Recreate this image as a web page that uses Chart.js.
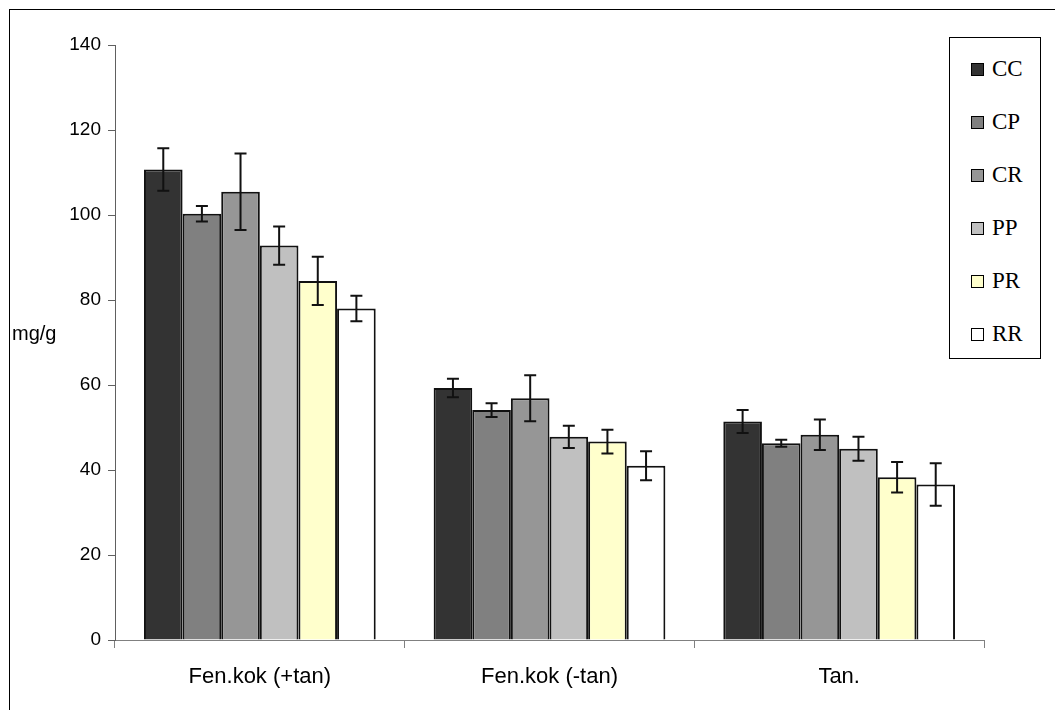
<!DOCTYPE html>
<html>
<head>
<meta charset="UTF-8">
<title>mg/g</title>
<script src="https://cdn.jsdelivr.net/npm/chart.js"></script>
<style>
    html, body { margin: 0; padding: 0; background: #fff; overflow: hidden; }
    #wrap { position: relative; width: 1055px; height: 710px; }
    #frame {
        position: absolute; left: 9px; top: 9px; width: 1100px; height: 800px;
        border: 1px solid #000; box-sizing: border-box;
    }
    #myChart { position: absolute; left: 0; top: 0; }
    #ylab {
        position: absolute; left: 12px; top: 322px;
        font-family: "Liberation Sans", Arial, sans-serif; font-size: 20px; color: #000;
    }
    #legend {
        position: absolute; left: 949px; top: 37px; width: 92px; height: 322px;
        border: 1px solid #000; box-sizing: border-box; background: #fff;
        font-family: "Liberation Serif", "Times New Roman", serif; font-size: 23px;
    }
    .item { position: absolute; left: 21px; height: 26px; display: flex; align-items: center; }
    .sw { width: 13px; height: 13px; border: 1.5px solid #000; margin-right: 8px; box-sizing: border-box; }
</style>
</head>
<body>
<div id="wrap">
    <div id="frame"></div>
    <canvas id="myChart" width="1055" height="710"></canvas>
    <div id="ylab">mg/g</div>
    <div id="legend"></div>
</div>
<script>
    const categories = ['Fen.kok (+tan)', 'Fen.kok (-tan)', 'Tan.'];
    const seriesNames = ['CC', 'CP', 'CR', 'PP', 'PR', 'RR'];
    const seriesColors = ['#333333', '#808080', '#969696', '#c0c0c0', '#ffffcc', '#ffffff'];

    const cc = [110.7, 59.3, 51.4];
    const cp = [100.3, 54.1, 46.3];
    const cr = [105.5, 56.9, 48.3];
    const pp = [92.8, 47.8, 45.0];
    const pr = [84.5, 46.7, 38.3];
    const rr = [78.0, 41.0, 36.6];

    const ccErr = [5.0, 2.2, 2.7];
    const cpErr = [1.8, 1.6, 0.8];
    const crErr = [9.0, 5.4, 3.6];
    const ppErr = [4.5, 2.6, 2.8];
    const prErr = [5.7, 2.8, 3.6];
    const rrErr = [3.0, 3.4, 5.0];

    const yTicks = [0, 20, 40, 60, 80, 100, 120, 140];

    const values = [cc, cp, cr, pp, pr, rr];
    const errors = [ccErr, cpErr, crErr, ppErr, prErr, rrErr];

    // error bars drawn through the y scale
    const errorBars = {
        id: 'errorBars',
        afterDatasetsDraw(chart) {
            const ctx = chart.ctx;
            const y = chart.scales.y;
            ctx.save();
            ctx.strokeStyle = '#111';
            ctx.lineWidth = 2;
            chart.data.datasets.forEach((ds, i) => {
                const meta = chart.getDatasetMeta(i);
                meta.data.forEach((bar, j) => {
                    const v = ds.data[j];
                    const e = errors[i][j];
                    const top = y.getPixelForValue(v + e);
                    const bot = y.getPixelForValue(v - e);
                    const x = bar.x;
                    ctx.beginPath();
                    ctx.moveTo(x, top); ctx.lineTo(x, bot);
                    ctx.moveTo(x - 6, top); ctx.lineTo(x + 6, top);
                    ctx.moveTo(x - 6, bot); ctx.lineTo(x + 6, bot);
                    ctx.stroke();
                });
            });
            ctx.restore();
        }
    };

    const data = {
        labels: categories,
        datasets: seriesNames.map((name, i) => ({
            label: name,
            data: values[i],
            backgroundColor: seriesColors[i],
            borderColor: '#111',
            borderWidth: 2,
            categoryPercentage: 0.8,
            barPercentage: 1.0
        }))
    };

    const config = {
        type: 'bar',
        data: data,
        options: {
            responsive: false,
            animation: false,
            layout: { padding: { left: 0, top: 45, right: 71, bottom: 0 } },
            plugins: { legend: { display: false }, tooltip: { enabled: false } },
            scales: {
                x: {
                    grid: { offset: true, drawOnChartArea: false, drawTicks: true, tickLength: 8, color: '#808080' },
                    border: { display: true, color: '#808080', width: 1 },
                    ticks: { color: '#000', padding: 16, font: { family: 'Liberation Sans', size: 22 } },
                    afterFit(s) { s.height = 70; s.paddingLeft = 0; s.paddingRight = 0; }
                },
                y: {
                    min: 0, max: 140,
                    afterBuildTicks(s) { s.ticks = yTicks.map(v => ({ value: v })); },
                    grid: { drawOnChartArea: false, drawTicks: true, tickLength: 7, color: '#606060' },
                    border: { display: true, color: '#606060', width: 1 },
                    ticks: { color: '#000', padding: 7, font: { family: 'Liberation Sans', size: 19 } },
                    afterFit(s) { s.width = 115; s.paddingTop = 0; s.paddingBottom = 0; }
                }
            }
        },
        plugins: [errorBars]
    };

    const myChart = new Chart(document.getElementById('myChart'), config);

    // legend box
    const legend = document.getElementById('legend');
    seriesNames.forEach((name, i) => {
        const it = document.createElement('div');
        it.className = 'item';
        it.style.top = (18 + i * 53) + 'px';
        it.innerHTML = '<span class="sw" style="background:' + seriesColors[i] + '"></span>' + name;
        legend.appendChild(it);
    });
</script>
</body>
</html>
